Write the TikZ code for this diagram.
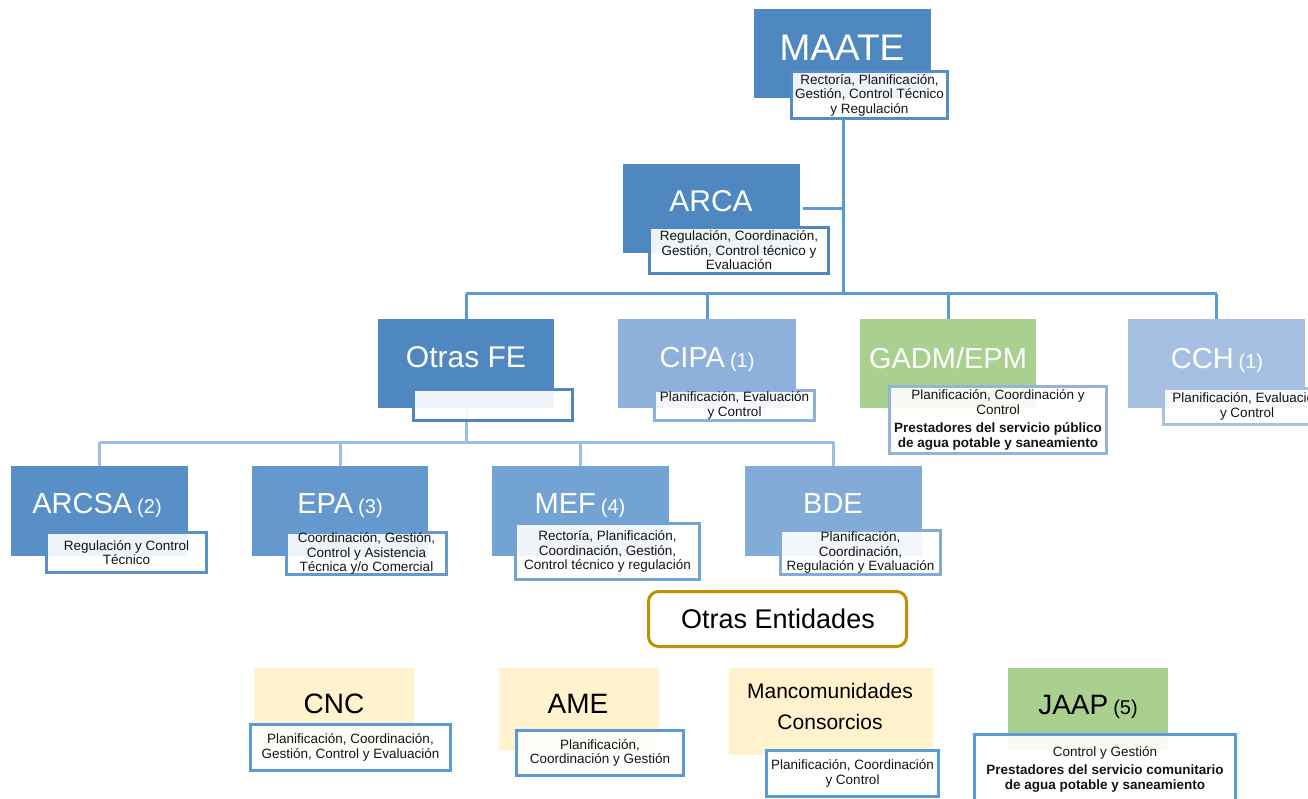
\documentclass[tikz,border=0pt]{standalone}
\usepackage{fontspec}
\setmainfont{Liberation Sans}
\definecolor{bA}{RGB}{79,136,192}
\definecolor{bCIPA}{RGB}{142,177,219}
\definecolor{bCCH}{RGB}{166,192,227}
\definecolor{gGAD}{RGB}{169,208,142}
\definecolor{sGAD}{RGB}{149,179,215}
\definecolor{bARCSA}{RGB}{88,143,199}
\definecolor{bEPA}{RGB}{101,152,204}
\definecolor{bMEF}{RGB}{115,163,210}
\definecolor{bBDE}{RGB}{130,171,215}
\definecolor{yel}{RGB}{255,242,204}
\definecolor{sb}{RGB}{91,155,213}
\definecolor{sbm}{RGB}{84,141,200}
\definecolor{gold}{RGB}{191,144,0}
\definecolor{lconn}{RGB}{155,189,226}
\definecolor{txt}{RGB}{20,20,20}
\tikzset{
  orgbox/.style={inner sep=0pt, outer sep=0pt, draw=none},
  sub/.style={draw, line width=3pt, fill=white, fill opacity=0.9, text opacity=1,
    inner sep=0pt, outer sep=0pt, align=center, text=txt,
    font=\fontsize{13.5}{14.5}\selectfont},
  conn/.style={draw=sb, line width=3pt},
  conn2/.style={draw=lconn, line width=3pt},
  ttl/.style={text=white, inner sep=0pt, anchor=base, font=\fontsize{30}{30}\selectfont},
  ttlb/.style={text=black, inner sep=0pt, anchor=base, font=\fontsize{28}{28}\selectfont},
}
\newcommand{\nb}[1]{\hspace{5pt}{\fontsize{20}{20}\selectfont #1}}
\begin{document}
\begin{tikzpicture}[x=1pt,y=-1pt]
\useasboundingbox (0,0) rectangle (1308,799);
\clip (0,0) rectangle (1308,799);

% boxes (positions)
\node[orgbox, fill=bA, minimum width=177pt, minimum height=89pt] (maate) at (842.5,53.5) {};
\node[orgbox, fill=bA, minimum width=177pt, minimum height=89pt] (arca) at (711.5,208.5) {};
\node[orgbox, fill=bA, minimum width=176pt, minimum height=89pt] (otras) at (466,363.5) {};
\node[orgbox, fill=bCIPA, minimum width=178pt, minimum height=89pt] (cipa) at (707,363.5) {};
\node[orgbox, fill=gGAD, minimum width=176pt, minimum height=89pt] (gadm) at (948,363.5) {};
\node[orgbox, fill=bCCH, minimum width=177pt, minimum height=89pt] (cch) at (1216.5,363.5) {};
\node[orgbox, fill=bARCSA, minimum width=177pt, minimum height=90pt] (arcsa) at (99.5,511) {};
\node[orgbox, fill=bEPA, minimum width=176pt, minimum height=90pt] (epa) at (340,511) {};
\node[orgbox, fill=bMEF, minimum width=177pt, minimum height=90pt] (mef) at (580.5,511) {};
\node[orgbox, fill=bBDE, minimum width=177pt, minimum height=90pt] (bde) at (833.5,511) {};

% connectors
\coordinate (j1) at (843,294);
\coordinate (j2) at (466,442);
\draw[conn] (maate.south -| j1) -- (j1);
\draw[conn] ([xshift=3pt]arca.east) -- (arca.east -| j1);
\draw[conn] (otras.north |- j1) -- (cch.north |- j1);
\draw[conn] (otras.north |- j1) -- (otras.north);
\draw[conn] (cipa.north |- j1) -- (cipa.north);
\draw[conn] (gadm.north |- j1) -- (gadm.north);
\draw[conn] (cch.north |- j1) -- (cch.north);
\draw[conn2] (otras.south) -- (j2);
\draw[conn2] (arcsa.north |- j2) -- (bde.north |- j2);
\draw[conn2] (arcsa.north |- j2) -- (arcsa.north);
\draw[conn2] (epa.north |- j2) -- (epa.north);
\draw[conn2] (mef.north |- j2) -- (mef.north);
\draw[conn2] (bde.north |- j2) -- (bde.north);

% titles
\node[ttl, font=\fontsize{37}{37}\selectfont] (maatet) at (842,61) {MAATE};
\node[ttl] (arcat) at (711,212) {ARCA};
\node[ttl] (otrast) at (466,367) {Otras FE};
\node[ttl, font=\fontsize{29}{29}\selectfont] (cipat) at (707,367) {CIPA\nb{(1)}};
\node[ttl, font=\fontsize{29}{29}\selectfont] (gadmt) at (948,368) {GADM/EPM};
\node[ttl, font=\fontsize{29}{29}\selectfont] (ccht) at (1217,368) {CCH\nb{(1)}};
\node[ttl, font=\fontsize{29}{29}\selectfont] (arcsat) at (97,513) {ARCSA\nb{(2)}};
\node[ttl, font=\fontsize{29}{29}\selectfont] (epat) at (340,513) {EPA\nb{(3)}};
\node[ttl, font=\fontsize{29}{29}\selectfont] (meft) at (580,513) {MEF\nb{(4)}};
\node[ttl, font=\fontsize{29}{29}\selectfont] (bdet) at (833,513) {BDE};

% sub boxes
\node[sub, draw=sbm, minimum width=156pt, minimum height=47pt] (maates) at (869.5,95)
  {Rectoría, Planificación,\\Gestión, Control Técnico\\y Regulación};
\node[sub, draw=bA, minimum width=179pt, minimum height=46pt] (arcas) at (739,250.5)
  {Regulación, Coordinación,\\Gestión, Control técnico y\\Evaluación};
\node[sub, draw=bA, minimum width=159pt, minimum height=31pt] (otrass) at (493,405) {};
\node[sub, draw=bCIPA, minimum width=160pt, minimum height=30pt] (cipas) at (734.5,405.5)
  {Planificación, Evaluación\\y Control};
\node[sub, draw=sGAD, minimum width=217pt, minimum height=67pt] (gadms) at (998,420)
  {Planificación, Coordinación y\\Control\\[4pt]
   \textbf{Prestadores del servicio público}\\\textbf{de agua potable y saneamiento}};
\node[sub, draw=bCCH, minimum width=167pt, minimum height=36pt] (cchs) at (1247,406.5)
  {Planificación, Evaluación\\y Control};
\node[sub, draw=bARCSA, minimum width=160pt, minimum height=40pt] (arcsas) at (126.5,552.5)
  {Regulación y Control\\Técnico};
\node[sub, draw=bEPA, minimum width=160pt, minimum height=42pt] (epas) at (366.5,553.5)
  {Coordinación, Gestión,\\Control y Asistencia\\Técnica y/o Comercial};
\node[sub, draw=bMEF, minimum width=184pt, minimum height=56pt] (mefs) at (607.5,551.5)
  {Rectoría, Planificación,\\Coordinación, Gestión,\\Control técnico y regulación};
\node[sub, draw=bBDE, minimum width=160pt, minimum height=44pt] (bdes) at (860.5,552.5)
  {Planificación,\\Coordinación,\\Regulación y Evaluación};

% Otras Entidades
\node[draw=gold, line width=3pt, rounded corners=10pt, fill=white, minimum width=258pt,
  minimum height=55pt, inner sep=0pt] (oe) at (777.5,619) {};
\node[ttlb, font=\fontsize{27}{27}\selectfont] (oet) at (778,628) {Otras Entidades};

% bottom boxes
\node[orgbox, fill=yel, minimum width=160pt, minimum height=82pt] (cnc) at (334,709) {};
\node[orgbox, fill=yel, minimum width=160pt, minimum height=82pt] (ame) at (579,709) {};
\node[orgbox, fill=yel, minimum width=204pt, minimum height=87pt] (manc) at (831,711.5) {};
\node[orgbox, fill=gGAD, minimum width=160pt, minimum height=82pt] (jaap) at (1088,709) {};
\node[ttlb] (cnct) at (334,713) {CNC};
\node[ttlb] (amet) at (578,713) {AME};
\node[ttlb, font=\fontsize{21}{21}\selectfont] (manct1) at (830,698) {Mancomunidades};
\node[ttlb, font=\fontsize{21}{21}\selectfont] (manct2) at (830,729) {Consorcios};
\node[ttlb] (jaapt) at (1088,714) {JAAP\nb{(5)}};

\node[sub, draw=sb, minimum width=200pt, minimum height=46pt] (cncs) at (350.5,747.5)
  {Planificación, Coordinación,\\Gestión, Control y Evaluación};
\node[sub, draw=sb, minimum width=167pt, minimum height=45pt] (ames) at (600,753)
  {Planificación,\\Coordinación y Gestión};
\node[sub, draw=sb, minimum width=172pt, minimum height=46pt] (mancs) at (852.5,773.5)
  {Planificación, Coordinación\\y Control};
\node[sub, draw=sb, minimum width=261pt, minimum height=69pt] (jaaps) at (1105,769)
  {Control y Gestión\\[4pt]\textbf{Prestadores del servicio comunitario}\\
   \textbf{de agua potable y saneamiento}};
\end{tikzpicture}
\end{document}
